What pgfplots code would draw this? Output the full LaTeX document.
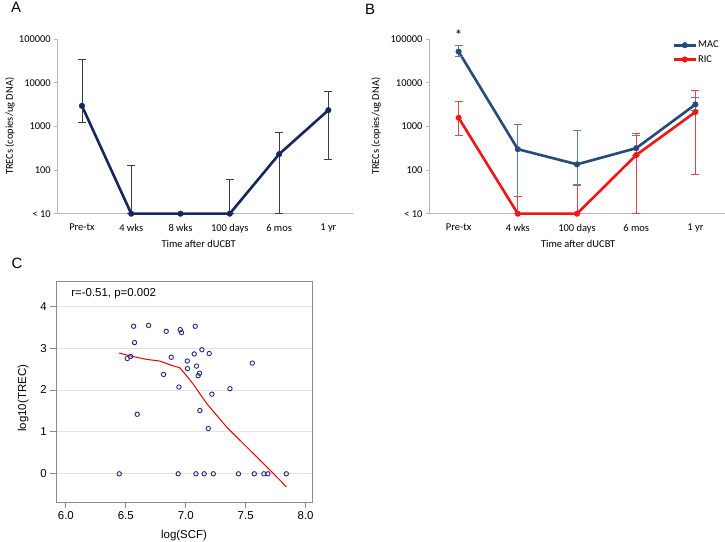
\documentclass[border=0pt]{standalone}
\usepackage{fontspec}
\setmainfont{Carlito}
\newfontfamily\arialfont{Liberation Sans}
\usepackage{pgfplots}
\pgfplotsset{compat=1.18}

\definecolor{navyA}{RGB}{22,38,94}
\definecolor{macblue}{RGB}{38,74,122}
\definecolor{macerr}{RGB}{95,125,165}
\definecolor{ricred}{RGB}{240,22,22}
\definecolor{ricerr}{RGB}{230,70,70}
\definecolor{errgray}{RGB}{60,60,60}
\definecolor{axgray}{RGB}{185,185,185}
\definecolor{ptblue}{RGB}{40,40,140}
\definecolor{boxgray}{RGB}{140,140,140}

\begin{document}
\begin{tikzpicture}
\useasboundingbox (0,0) rectangle (725bp,542bp);

% panel labels
\node[font=\arialfont\fontsize{15}{17}\selectfont] at (16bp,535bp) {A};
\node[font=\arialfont\fontsize{15}{17}\selectfont] at (370bp,533bp) {B};
\node[font=\arialfont\fontsize{15}{17}\selectfont] at (17bp,278.5bp) {C};

% A
\begin{axis}[
  at={(57.3bp,328.3bp)}, anchor=south west,
  scale only axis, width=295.7bp, height=174.7bp,
  ymode=log, ymin=10, ymax=100000,
  ytick={10,100,1000,10000,100000},
  yticklabels={< 10,100,1000,10000,100000},
  yminorticks=false,
  axis x line=bottom, axis y line=left,
  axis line style={axgray, line width=0.8bp, -},
  tick style={axgray, line width=0.6bp},
  tick align=outside, major tick length=3bp,
  x tick style={draw=none},
  clip=false,
  tick label style={font=\fontsize{10.5}{12}\selectfont},
  label style={font=\fontsize{10.5}{12}\selectfont},
  xticklabel style={yshift=-4bp},
  xmin=0.5, xmax=6.5,
  xtick={1,2,3,4,5,6},
  xticklabels={Pre-tx,4 wks,8 wks,100 days,6 mos,1 yr},
  xlabel={Time after dUCBT},
  ylabel={TRECs (copies/ug DNA)},
  xlabel style={at={(axis description cs:0.478,-0.172)}, anchor=center},
  ylabel style={at={(axis description cs:-0.16,0.5)}, anchor=center},
]
\addplot[navyA, line width=2.6bp, mark=*, mark size=2.8bp,
  mark options={line width=0.4bp},
  error bars/.cd, y dir=both, y explicit,
  error bar style={errgray, line width=0.8bp},
  error mark options={rotate=90, errgray, mark size=4bp, line width=0.8bp}]
  coordinates {
  (1,2950) +=(0,31050) -=(0,1750)
  (2,10) +=(0,120) -=(0,0)
  (3,10) +=(0,0) -=(0,0)
  (4,10) +=(0,52) -=(0,0)
  (5,230) +=(0,490) -=(0,220)
  (6,2350) +=(0,3950) -=(0,2175)
};
\end{axis}

% B
\begin{axis}[
  at={(429bp,328.3bp)}, anchor=south west,
  scale only axis, width=296bp, height=174.7bp,
  ymode=log, ymin=10, ymax=100000,
  ytick={10,100,1000,10000,100000},
  yticklabels={< 10,100,1000,10000,100000},
  yminorticks=false,
  axis x line=bottom, axis y line=left,
  axis line style={axgray, line width=0.8bp, -},
  tick style={axgray, line width=0.6bp},
  tick align=outside, major tick length=3bp,
  x tick style={draw=none},
  clip=false,
  tick label style={font=\fontsize{10.5}{12}\selectfont},
  label style={font=\fontsize{10.5}{12}\selectfont},
  xticklabel style={yshift=-4bp},
  xmin=0.5, xmax=5.5,
  xtick={1,2,3,4,5},
  xticklabels={Pre-tx,4 wks,100 days,6 mos,1 yr},
  xlabel={Time after dUCBT},
  ylabel={TRECs (copies/ug DNA)},
  xlabel style={at={(axis description cs:0.504,-0.172)}, anchor=center},
  ylabel style={at={(axis description cs:-0.178,0.5)}, anchor=center},
  legend style={at={(axis description cs:0.822,0.995)}, anchor=north west,
    draw=none, fill=none, inner sep=0pt, row sep=4bp,
    font=\fontsize{10.5}{12}\selectfont,
    nodes={inner sep=1bp}},
  legend cell align=left,
  legend image code/.code={\draw[mark repeat=2,mark phase=2,#1]
    plot coordinates {(0bp,0bp) (11bp,0bp) (22bp,0bp)};},
]
\addplot[macblue, line width=2.6bp, mark=*, mark size=2.8bp,
  mark options={line width=0.4bp},
  error bars/.cd, y dir=both, y explicit,
  error bar style={macerr, line width=0.8bp},
  error mark options={rotate=90, macerr, mark size=4bp, line width=0.8bp}]
  coordinates {
  (1,51500) +=(0,20000) -=(0,12000)
  (2,300) +=(0,800) -=(0,290)
  (3,135) +=(0,665) -=(0,87)
  (4,316) +=(0,314) -=(0,100)
  (5,3170) +=(0,1330) -=(0,900)
};
\addlegendentry{MAC}
\addplot[ricred, line width=2.6bp, mark=*, mark size=2.8bp,
  mark options={line width=0.4bp},
  error bars/.cd, y dir=both, y explicit,
  error bar style={ricerr, line width=0.8bp},
  error mark options={rotate=90, ricerr, mark size=4bp, line width=0.8bp}]
  coordinates {
  (1,1570) +=(0,2230) -=(0,940)
  (2,10) +=(0,15) -=(0,0)
  (3,10) +=(0,35) -=(0,0)
  (4,220) +=(0,480) -=(0,210)
  (5,2130) +=(0,4470) -=(0,2050)
};
\addlegendentry{RIC}
\node[font=\fontsize{15}{17}\selectfont] at (axis cs:1,125000) {*};
\end{axis}

% C
\begin{axis}[
  at={(56.3bp,39.7bp)}, anchor=south west,
  scale only axis, width=256bp, height=221.3bp,
  xmin=5.92, xmax=8.056, ymin=-0.68, ymax=4.6,
  xtick={6,6.5,7,7.5,8}, ytick={0,1,2,3,4},
  xtick pos=bottom, ytick pos=left,
  tick align=outside, major tick length=6bp,
  axis line style={boxgray, line width=0.9bp},
  tick style={boxgray, line width=0.8bp},
  ymajorgrids, grid style={gray!22, line width=0.9bp},
  /pgf/number format/assume math mode=true,
  x tick label style={/pgf/number format/.cd, fixed, fixed zerofill, precision=1},
  tick label style={font=\arialfont\fontsize{11.5}{13}\selectfont},
  label style={font=\arialfont\fontsize{11.5}{13}\selectfont},
  xlabel={log(SCF)}, ylabel={log10(TREC)},
  xlabel style={at={(axis description cs:0.499,-0.148)}, anchor=center},
  ylabel style={at={(axis description cs:-0.129,0.47)}, anchor=center},
]
\addplot[only marks, mark=o, mark size=2.2bp, ptblue, line width=0.9bp] coordinates {
  (6.565,3.52) (6.69,3.54) (6.573,3.13) (6.512,2.75) (6.54,2.80) (6.595,1.42)
  (6.445,0) (6.837,3.40) (6.954,3.44) (6.965,3.37) (7.079,3.52) (6.879,2.78)
  (6.815,2.37) (6.943,2.07) (7.013,2.69) (7.015,2.51) (7.071,2.86) (7.135,2.96)
  (7.196,2.87) (7.09,2.57) (7.115,2.40) (7.104,2.34) (7.118,1.51) (7.188,1.08)
  (7.218,1.90) (7.369,2.03) (7.555,2.64)
  (6.937,0) (7.085,0) (7.154,0) (7.23,0) (7.44,0) (7.572,0) (7.652,0) (7.686,0) (7.839,0)
};
\addplot[red!92!black, line width=1bp] coordinates {
  (6.445,2.88) (6.54,2.81) (6.673,2.73) (6.784,2.69) (6.868,2.60) (6.95,2.53)
  (7.007,2.34) (7.062,2.14) (7.174,1.68) (7.34,1.12) (7.507,0.645) (7.675,0.17) (7.84,-0.31)
};
\node[anchor=west, font=\arialfont\fontsize{11.5}{13}\selectfont]
  at (axis description cs:0.045,0.944) {r=-0.51, p=0.002};
\end{axis}
\end{tikzpicture}
\end{document}
